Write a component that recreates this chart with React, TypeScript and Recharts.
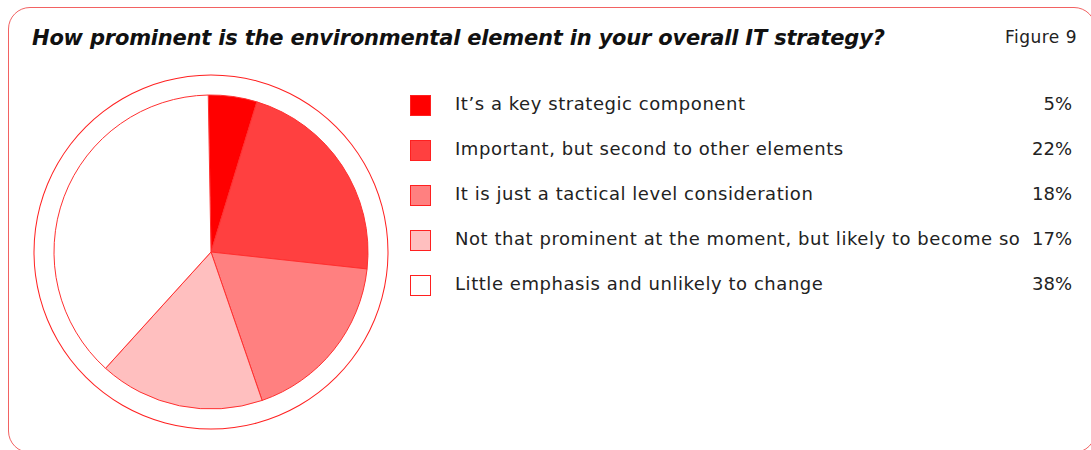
import React from "react";
import { PieChart, Pie, Cell } from "recharts";

const categories = [
  "It\u2019s a key strategic component",
  "Important, but second to other elements",
  "It is just a tactical level consideration",
  "Not that prominent at the moment, but likely to become so",
  "Little emphasis and unlikely to change",
];
const values = [5, 22, 18, 17, 38];
const colors = ["#FF0000", "#FF4040", "#FF8080", "#FFBFBF", "#FFFFFF"];
const title = "How prominent is the environmental element in your overall IT strategy?";
const figureLabel = "Figure 9";

const data = categories.map((name, i) => ({ name, value: values[i] }));
const ringData = [{ name: "ring", value: 1 }];

const FONT = "'DejaVu Sans', sans-serif";

export default function App() {
  return (
    <div style={{ position: "absolute", left: 0, top: 0, width: 1091, height: 450, background: "#fff", overflow: "hidden", fontFamily: FONT }}>
      <div style={{ position: "absolute", left: 8, top: 7, width: 1088, height: 446, border: "1.5px solid #F26262", borderRadius: 22, boxSizing: "border-box" }} />
      <div style={{ position: "absolute", left: 32, top: 26, fontSize: 21, fontWeight: 700, fontStyle: "italic", color: "#111", whiteSpace: "nowrap", letterSpacing: -0.2 }}>{title}</div>
      <div style={{ position: "absolute", right: 14, top: 27, fontSize: 17, letterSpacing: 0.5, color: "#222" }}>{figureLabel}</div>
      <div style={{ position: "absolute", left: 0, top: 0 }}>
        <PieChart width={1091} height={450} margin={{ top: 0, right: 0, bottom: 0, left: 0 }}>
          <Pie data={ringData} dataKey="value" cx={211} cy={252} outerRadius={177.5} innerRadius={176.5} startAngle={90} endAngle={-270} fill="#FF2020" stroke="none" isAnimationActive={false} />
          <Pie data={data} dataKey="value" cx={211} cy={252} outerRadius={157} innerRadius={0} startAngle={91} endAngle={-269} stroke="#FF3030" strokeWidth={1} isAnimationActive={false}>
            {data.map((d, i) => (
              <Cell key={d.name} fill={colors[i]} />
            ))}
          </Pie>
        </PieChart>
      </div>
      {categories.map((c, i) => (
        <div key={c} style={{ position: "absolute", left: 410, top: 95 + i * 45, height: 21, width: 670 }}>
          <div style={{ position: "absolute", left: 0, top: 0, width: 21, height: 21, background: colors[i], border: "1px solid #FF2020", boxSizing: "border-box" }} />
          <div style={{ position: "absolute", left: 45, top: -2, fontSize: 18, letterSpacing: 0.55, color: "#222", whiteSpace: "nowrap" }}>{c}</div>
          <div style={{ position: "absolute", right: 8, top: -2, fontSize: 18, color: "#222" }}>{values[i]}%</div>
        </div>
      ))}
    </div>
  );
}
